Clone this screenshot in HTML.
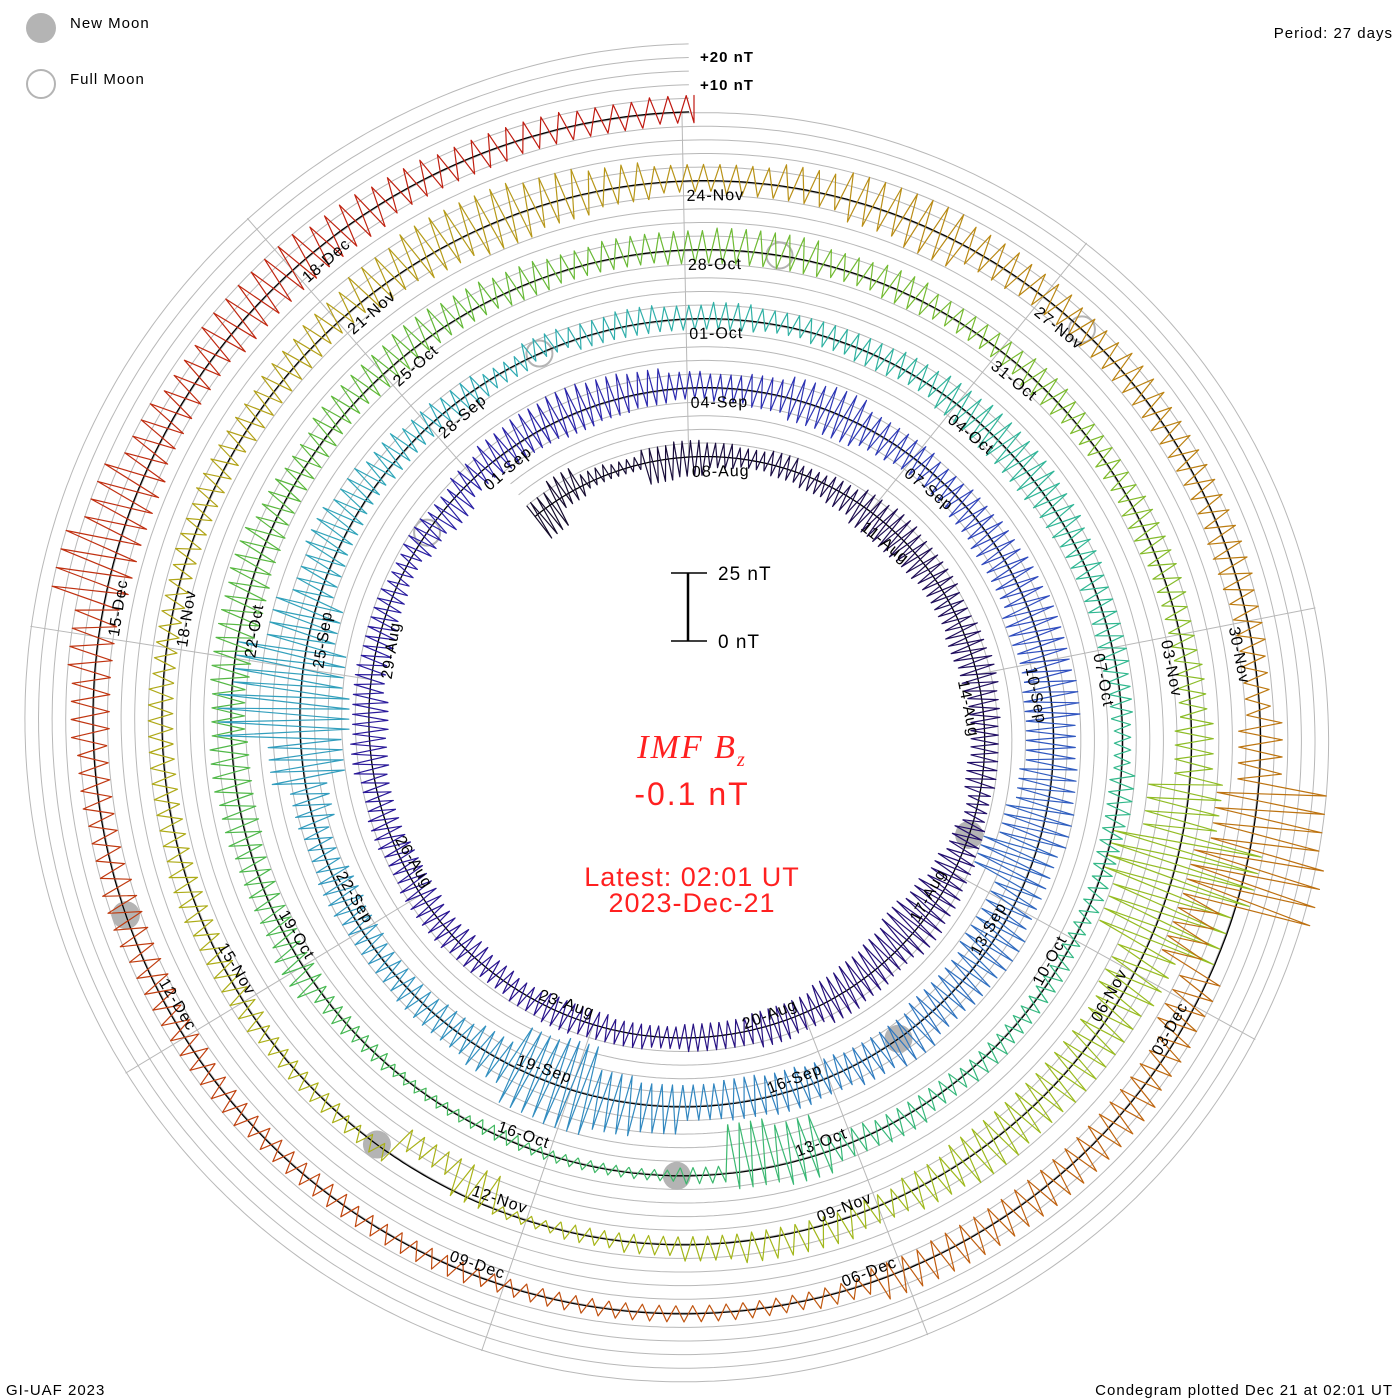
<!DOCTYPE html>
<html><head><meta charset="utf-8">
<style>
html,body{margin:0;padding:0;background:#fff;}
svg{display:block;font-family:"Liberation Sans",sans-serif;}
</style></head>
<body>
<svg id="chart" width="1400" height="1400" viewBox="0 0 1400 1400" xmlns="http://www.w3.org/2000/svg">
  <g id="grid"></g>
  <g id="spokes"></g>
  <g id="moons"></g>
  <g id="baseline"></g>
  <g id="series"></g>
  <g id="labels"></g>

  <g>
    <circle cx="41" cy="28" r="15" fill="#b4b4b4"/>
    <text x="70" y="28" font-size="15" letter-spacing="1">New Moon</text>
    <circle cx="41" cy="84" r="14" fill="none" stroke="#b4b4b4" stroke-width="2"/>
    <text x="70" y="84" font-size="15" letter-spacing="1">Full Moon</text>
  </g>
  <text x="700" y="62" font-size="15" font-weight="bold" letter-spacing="1">+20 nT</text>
  <text x="700" y="90" font-size="15" font-weight="bold" letter-spacing="1">+10 nT</text>
  <text x="1393" y="38" font-size="15" text-anchor="end" letter-spacing="1">Period: 27 days</text>
  <text x="6" y="1395" font-size="15" letter-spacing="1">GI-UAF 2023</text>
  <text x="1393" y="1395" font-size="15" text-anchor="end" letter-spacing="1">Condegram plotted Dec 21 at 02:01 UT</text>

  <g>
    <line x1="688" y1="573" x2="688" y2="641" stroke="#000" stroke-width="2.5"/>
    <line x1="671" y1="573" x2="707" y2="573" stroke="#000" stroke-width="1.5"/>
    <line x1="671" y1="641" x2="707" y2="641" stroke="#000" stroke-width="1.5"/>
    <text x="718" y="580" font-size="19" letter-spacing="1">25 nT</text>
    <text x="718" y="648" font-size="19" letter-spacing="1">0 nT</text>
  </g>
  <g fill="#ff2020">
    <text x="692" y="758" font-size="34" text-anchor="middle" font-family="Liberation Serif, serif" font-style="italic" letter-spacing="2">IMF B<tspan font-size="20" dy="8">z</tspan></text>
    <text x="692" y="805" font-size="32" text-anchor="middle" letter-spacing="2">-0.1 nT</text>
    <text x="692" y="886" font-size="27" text-anchor="middle" letter-spacing="1">Latest: 02:01 UT</text>
    <text x="692" y="912" font-size="27" text-anchor="middle" letter-spacing="1">2023-Dec-21</text>
  </g>
</svg>
<script>
// Bz envelope per 12h bin, starting 2023-08-05 12:00 UT (nT)
const bzHigh = [
5, 8,4, 3,5, 6,5, 4,5, 3,4, 6,7, 6,6, 5,6, 7,6, 5,5, 4,5, 6,7, 8,6, 7,8, 6,7, 5,5, 4,5, 5,6, 5,4, 5,6, 6,5, 6,5, 7,6, 6,5, 5,4, 5,4,
6,8, 9,10, 9,8, 6,5, 6,8, 9,6, 6,5, 6,7, 8,9, 9,10, 8,9, 10,8, 8,10, 9,8, 10,8, 6,7, 6,5, 10,12, 15,14, 8,6, 6,5, 5,6, 5,6, 12,30, 25,15, 10,12, 10,8, 6,5, 3,6, 5,6,
5,6, 5,5, 5,6, 7,8, 8,7, 6,5, 5,4, 3,5, 4,4, 3,4, 4,5, 4,6, 5,8, 6,3, 2,2, 2,2, 2,2, 3,4, 8,6, 6,7, 8,7, 8,8, 9,7, 6,8, 8,9, 8,7, 6,7, 7,8, 8,6, 7,5, 5,6,
5,5, 6,6, 5,6, 8,12, 30,25, 12,10, 10,9, 10,8, 6,8, 8,6, 4,3, 2,2, -4,4, 4,4, 5,5, 6,5, 5,5, 4,4, 5,6, 6,7, 8,10, 12,12, 10,8, 6,6, 8,10, 10,8, 7,6, 7,6, 6,6, 5,4,
8,25, 28,-5, 5,6, 8,8, 8,8, 8,4, 3,3, 3,3, 3,4, 4,4, 4,5, 5,5, 6,5, 6,8, 10,20, 15,10, 8,10, 10,8, 7,6, 6,5, 6
];
const bzLow = [
-10, -4,-2, -2,-8, -7,-4, -3,-4, -5,-6, -8,-8, -7,-6, -6,-7, -6,-5, -5,-6, -4,-6, -8,-10, -12,-10, -9,-8, -6,-6, -5,-5, -4,-4, -5,-5, -4,-5, -6,-5, -6,-6, -5,-5, -6,-7, -5,-6, -5,-4, -6,-8,
-5,-6, -6,-7, -6,-5, -4,-5, -6,-8, -9,-7, -6,-6, -7,-8, -8,-10, -9,-10, -10,-12, -15,-20, -10,-10, -8,-8, -6,-6, -7,-8, -9,-8, -8,-10, -18,-16, -8,-6, -5,-5, -6,-7, -5,-8, -15,-18, -15,-10, -5,-4, -3,-4, -4,-5, -4,-2, -4,-4,
-4,-4, -3,-4, -5,-4, -6,-7, -7,-6, -5,-5, -5,-4, -3,-4, -4,-3, -3,-3, -3,-3, -4,-4, -5,-15, -18,-3, -2,-2, -2,-3, -2,-2, -3,-3, -4,-5, -5,-6, -6,-5, -6,-7, -6,-5, -5,-4, -5,-4, -4,-5, -4,-4, -5,-5, -5,-4, -5,-4, -4,-5,
-4,-4, -5,-4, -4,-4, -6,-15, -25,-20, -10,-8, -8,-8, -8,-6, -4,-3, -3,-3, -3,-3, -2,-12, -12,-2, -3,-3, -4,-4, -4,-4, -4,-4, -4,-4, -4,-4, -5,-5, -4,-6, -8,-10, -8,-6, -4,-5, -5,-8, -10,-6, -5,-5, -5,-5, -5,-6, -5,-5,
-8,-15, -20,-20, -10,-6, -6,-6, -6,-6, -5,-3, -3,-3, -3,-3, -3,-3, -3,-4, -4,-4, -5,-6, -6,-5, -5,-6, -6,-8, -8,-6, -6,-8, -8,-8, -6,-6, -5,-5, -4
];
// days relative to 2023-08-08 00:00 UT
const newMoonDays = [8.40, 38.07, 67.75, 97.39, 126.98];
const fullMoonDays = [23.07, 52.41, 81.85, 111.39];
const labelDays = [];
for (let d = 0; d <= 132; d += 3) labelDays.push(d);
const colorStopDays = [-3,3,9,15,21,27,33,39,45,51,54,60,66,72,78,84,90,96,102,108,114,120,126,135];
const colorStops = ["#140c28","#1e0e50","#241070","#28128a","#2a1a9c","#2c2ab0","#3050c0","#3080c0","#3398c0","#30a8b8","#30b0a8","#30b890","#38b878","#48b850","#60b838","#78bb30","#98bc20","#a8b418","#b0a818","#b89418","#bc7a10","#c05c10","#c04010","#c01810"];

const NS = "http://www.w3.org/2000/svg";
const cx = 694, cy = 730, R0 = 273, dR = 69, P = 27, dEnd = 135.084, S = 2.72;
const dStart = -2.67, bin0 = -2.5, binW = 0.5, SUB = 8;
const R = d => R0 + dR * d / P;
const ang = d => 2 * Math.PI * (d - dEnd) / P;
function pt(d, v) { const r = R(d) + v * S, a = ang(d); return [cx + r * Math.sin(a), cy - r * Math.cos(a)]; }
function hex(c){return [1,3,5].map(i=>parseInt(c.substr(i,2),16));}
function colorAt(d){
  let i = 0; while (i < colorStopDays.length - 2 && d > colorStopDays[i+1]) i++;
  const t = Math.max(0, Math.min(1, (d - colorStopDays[i]) / (colorStopDays[i+1] - colorStopDays[i])));
  const a = hex(colorStops[i]), b = hex(colorStops[i+1]);
  return "rgb(" + a.map((v,k)=>Math.round(v + (b[k]-v)*t)).join(",") + ")";
}
function mk(tag, attrs, parent){ const e = document.createElementNS(NS, tag); for (const k in attrs) e.setAttribute(k, attrs[k]); parent.appendChild(e); return e; }
function spiralPath(off){
  let s = "";
  for (let d = dStart; d <= dEnd + 1e-9; d += 0.04) { const p = pt(d, off); s += (s ? "L" : "M") + p[0].toFixed(1) + "," + p[1].toFixed(1); }
  return s;
}
const grid = document.getElementById("grid");
for (let k = 1; k <= 5; k++) {
  const g = mk("path", {d: spiralPath(k * 5), fill: "none", stroke: "#b8b8b8", "stroke-width": 1}, grid);
  
  
}
const spokes = document.getElementById("spokes");
labelDays.forEach(d => {
  const a = ang(d), r1 = R(d), r2 = R(d) + dR;
  const l = mk("line", {x1: cx + r1*Math.sin(a), y1: cy - r1*Math.cos(a), x2: cx + r2*Math.sin(a), y2: cy - r2*Math.cos(a), stroke: "#b8b8b8", "stroke-width": 1}, spokes);
  
  
});
const moons = document.getElementById("moons");
newMoonDays.forEach(d => { const p = pt(d, 0);
  const c = mk("circle", {cx: p[0], cy: p[1], r: 14, fill: "#b4b4b4"}, moons);
  
  
});
fullMoonDays.forEach(d => { const p = pt(d, 0);
  const c = mk("circle", {cx: p[0], cy: p[1], r: 13, fill: "none", stroke: "#b4b4b4", "stroke-width": 2}, moons);
  
  
});
const bl = mk("path", {d: spiralPath(0), fill: "none", stroke: "#000", "stroke-width": 1.3}, document.getElementById("baseline"));


const series = document.getElementById("series");
let prev = null;
for (let i = 0; i < bzHigh.length; i++) {
  const dc = bin0 + i * binW;
  let s = prev ? "M" + prev[0].toFixed(1) + "," + prev[1].toFixed(1) : "";
  for (let j = 0; j < SUB; j++) {
    const d = Math.min(dEnd, Math.max(dStart, dc - binW / 2 + (j + 0.5) * binW / SUB));
    const v = (j % 2 === 0) ? bzHigh[i] : bzLow[i];
    const p = pt(d, v);
    s += (s ? "L" : "M") + p[0].toFixed(1) + "," + p[1].toFixed(1);
    prev = p;
  }
  const seg = mk("path", {d: s, fill: "none", stroke: colorAt(dc), "stroke-width": 1.2, "stroke-linejoin": "round"}, series);
  
  
}
const labels = document.getElementById("labels");
const months = ["Jan","Feb","Mar","Apr","May","Jun","Jul","Aug","Sep","Oct","Nov","Dec"];
labelDays.forEach(d => {
  const dt = new Date(Date.UTC(2023, 7, 8) + d * 86400000);
  const txt = String(dt.getUTCDate()).padStart(2, "0") + "-" + months[dt.getUTCMonth()];
  let th = (ang(d) * 180 / Math.PI) % 360; if (th < 0) th += 360;
  const r = R(d);
  let t;
  if (th <= 90 || th > 270) {
    t = mk("text", {x: cx + 3, y: cy - r + 20, "font-size": 16, "letter-spacing": 1, transform: "rotate(" + th.toFixed(2) + " " + cx + " " + cy + ")"}, labels);
  } else {
    t = mk("text", {x: cx - 3, y: cy + r - 6, "font-size": 16, "letter-spacing": 1, "text-anchor": "end", transform: "rotate(" + (th + 180).toFixed(2) + " " + cx + " " + cy + ")"}, labels);
  }
  t.textContent = txt;
  
  
});
</script>
</body></html>
